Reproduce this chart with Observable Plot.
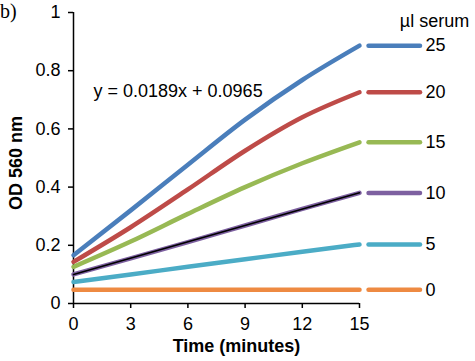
<!DOCTYPE html>
<html>
<head>
<meta charset="utf-8">
<script src="https://cdn.jsdelivr.net/npm/d3@7"></script>
<script src="https://cdn.jsdelivr.net/npm/@observablehq/plot@0.6"></script>
<style>
  html, body { margin: 0; padding: 0; background: #fff; }
  #chart { position: relative; width: 475px; height: 361px; }
  .panel { position: absolute; left: 0; top: 1px; font-family: "Liberation Serif", "Times New Roman", serif; font-size: 20px; line-height: 1; }
  .ytitle { position: absolute; left: 16px; top: 163px; transform: translate(-50%, -50%) rotate(-90deg);
            white-space: nowrap; font-family: "Liberation Sans", Arial, sans-serif; font-weight: bold; font-size: 18px; line-height: 1; }
</style>
</head>
<body>
<div id="chart"><div class="panel">b)</div><div class="ytitle">OD 560 nm</div></div>
<script>
// ---- data ----
const times = [0, 3, 6, 9, 12, 15];
const serumLevels = ["25", "20", "15", "10", "5", "0"];
const od25 = [0.166, 0.320, 0.477, 0.632, 0.768, 0.886];
const od20 = [0.143, 0.262, 0.392, 0.525, 0.640, 0.726];
const od15 = [0.126, 0.213, 0.308, 0.400, 0.482, 0.554];
const od10 = [0.100, 0.155, 0.211, 0.268, 0.325, 0.380];
const od5  = [0.074, 0.100, 0.126, 0.152, 0.178, 0.203];
const od0  = [0.047, 0.047, 0.047, 0.047, 0.047, 0.047];
const xTicks = [0, 3, 6, 9, 12, 15];
const yTicks = [0, 0.2, 0.4, 0.6, 0.8, 1];
const equationText = "y = 0.0189x + 0.0965";
const colors = ["#4A7EBB", "#BE4B48", "#98B954", "#7D60A0", "#4BACC6", "#EE8A42"];

const seriesValues = [od25, od20, od15, od10, od5, od0];
const rows = [];
serumLevels.forEach((s, i) => times.forEach((t, j) => rows.push({serum: s, t, od: seriesValues[i][j]})));
const ends = serumLevels.map((s, i) => ({serum: s, od: seriesValues[i][seriesValues[i].length - 1]}));
const rows10 = rows.filter(d => d.serum === "10");

const font = "'Liberation Sans', Arial, sans-serif";
const legendFrom = 15.5, legendTo = 18.2;

const plot = Plot.plot({
  width: 475,
  height: 361,
  marginLeft: 73,
  marginRight: 116,
  marginTop: 12,
  marginBottom: 58,
  style: {fontFamily: font, fontSize: "18px", color: "#000", background: "transparent"},
  x: {domain: [0, 15]},
  y: {domain: [0, 1]},
  color: {domain: serumLevels, range: colors},
  marks: [
    Plot.axisX({ticks: xTicks, tickSize: 5, tickPadding: 9, fontSize: 18, label: null, strokeWidth: 1.5}),
    Plot.axisY({ticks: yTicks, tickSize: 5, tickPadding: 8, fontSize: 18, label: null, strokeWidth: 1.5, tickFormat: d => String(d)}),
    Plot.ruleX([0], {stroke: "#000", strokeWidth: 1.5}),
    Plot.ruleY([0], {stroke: "#000", strokeWidth: 1.5}),
    Plot.line(rows, {x: "t", y: "od", z: "serum", stroke: "serum", strokeWidth: 4.5, strokeLinecap: "round", curve: "monotone-x"}),
    Plot.linearRegressionY(rows10, {x: "t", y: "od", stroke: "#000", strokeWidth: 1.6, ci: 0}),
    Plot.ruleY(ends, {y: "od", x1: () => legendFrom, x2: () => legendTo, stroke: "serum", strokeWidth: 4.5, strokeLinecap: "round"}),
    Plot.text(ends, {y: "od", x: () => legendTo, text: "serum", textAnchor: "start", dx: 5, fontSize: 18}),
    Plot.text([equationText], {frameAnchor: "top-left", dx: 20, dy: 72, text: d => d, textAnchor: "start", fontSize: 18}),
    Plot.text(["µl serum"], {frameAnchor: "top-right", dx: 75, dy: 2, text: d => d, textAnchor: "middle", fontSize: 18}),
    Plot.text(["Time (minutes)"], {frameAnchor: "bottom", dx: 20, dy: 48, text: d => d, fontWeight: "bold", fontSize: 18})
  ]
});
document.getElementById("chart").appendChild(plot);
</script>
</body>
</html>
